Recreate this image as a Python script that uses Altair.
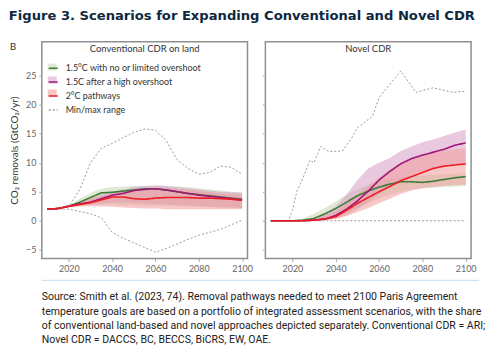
import altair as alt
import pandas as pd

# ---------------- data ----------------
years = [2010, 2015, 2020, 2025, 2030, 2035, 2040, 2045, 2050, 2055,
         2060, 2065, 2070, 2075, 2080, 2085, 2090, 2095, 2100]

SCEN = ["1.5°C with no or limited overshoot", "1.5C after a high overshoot", "2°C pathways"]
MINMAX = "Min/max range"

# Conventional CDR on land
conv_green = [2.0, 2.1, 2.5, 3.2, 4.0, 4.8, 4.9, 5.1, 5.3, 5.5, 5.5, 5.3, 5.0, 4.7, 4.5, 4.3, 4.1, 3.9, 3.7]
conv_purple = [2.0, 2.1, 2.5, 2.9, 3.2, 3.8, 4.4, 4.7, 5.2, 5.4, 5.5, 5.3, 5.0, 4.7, 4.4, 4.2, 4.0, 3.8, 3.6]
conv_red = [2.0, 2.1, 2.5, 2.8, 3.1, 3.6, 4.1, 4.1, 3.8, 3.7, 3.9, 4.0, 4.0, 4.0, 3.9, 3.9, 3.8, 3.7, 3.5]
conv_green_lo = [2.0, 2.1, 2.4, 2.6, 2.8, 2.8, 2.8, 2.7, 2.7, 2.6, 2.6, 2.6, 2.5, 2.5, 2.4, 2.4, 2.3, 2.3, 2.2]
conv_green_hi = [2.0, 2.1, 2.6, 3.8, 4.8, 5.5, 5.8, 5.9, 6.0, 6.0, 6.0, 6.0, 5.9, 5.8, 5.6, 5.4, 5.2, 5.0, 4.9]
conv_purple_lo = [2.0, 2.1, 2.4, 2.6, 2.8, 3.0, 3.1, 3.2, 3.1, 3.0, 2.9, 2.8, 2.7, 2.6, 2.5, 2.4, 2.3, 2.3, 2.2]
conv_purple_hi = [2.0, 2.1, 2.6, 3.2, 3.8, 4.5, 5.0, 5.4, 5.8, 6.0, 6.1, 6.0, 5.8, 5.6, 5.4, 5.2, 5.0, 4.9, 4.8]
conv_red_lo = [2.0, 2.1, 2.3, 2.4, 2.5, 2.5, 2.4, 2.3, 2.2, 2.1, 2.1, 2.0, 2.0, 2.0, 2.0, 2.0, 2.0, 2.0, 2.0]
conv_red_hi = [2.0, 2.1, 2.6, 3.2, 3.8, 4.3, 4.7, 5.0, 5.3, 5.5, 5.6, 5.6, 5.5, 5.3, 5.1, 4.9, 4.7, 4.6, 4.5]
conv_max = [2.0, 2.1, 2.5, 5.3, 10.0, 12.5, 13.3, 14.3, 15.2, 15.8, 15.6, 13.8, 10.5, 9.0, 8.0, 8.3, 9.4, 9.2, 8.0]
conv_min = [2.0, 2.0, 2.0, 1.6, 1.2, 0.5, -2.0, -3.0, -3.8, -4.6, -5.4, -4.8, -4.0, -3.2, -2.5, -2.0, -1.5, -0.7, 0.1]

# Novel CDR
nov_green = [0, 0, 0, 0.1, 0.4, 1.2, 2.1, 3.2, 4.3, 5.1, 5.8, 6.3, 6.7, 6.7, 6.6, 6.8, 7.1, 7.4, 7.6]
nov_purple = [0, 0, 0, 0, 0.1, 0.3, 0.9, 2.0, 3.4, 5.1, 7.0, 8.5, 9.8, 10.7, 11.3, 11.8, 12.3, 13.0, 13.4]
nov_red = [0, 0, 0, 0, 0.1, 0.3, 0.7, 1.8, 3.0, 4.0, 5.0, 5.9, 6.9, 7.6, 8.3, 9.0, 9.4, 9.6, 9.8]
nov_green_lo = [0, 0, 0, 0, 0.1, 0.4, 0.8, 1.4, 2.2, 3.0, 3.8, 4.5, 5.0, 5.4, 5.6, 5.7, 5.8, 5.9, 6.0]
nov_green_hi = [0, 0, 0, 0.4, 1.2, 2.2, 3.3, 4.5, 5.4, 6.2, 6.8, 7.2, 7.4, 7.6, 7.8, 7.9, 8.0, 8.1, 8.2]
nov_purple_lo = [0, 0, 0, 0, 0, 0.1, 0.4, 1.0, 2.0, 3.2, 4.5, 5.8, 6.8, 7.8, 8.5, 9.0, 9.4, 9.7, 9.9]
nov_purple_hi = [0, 0, 0, 0.1, 0.4, 1.2, 2.5, 4.5, 7.0, 9.0, 10.0, 10.8, 12.0, 12.8, 13.5, 14.0, 14.6, 15.2, 15.7]
nov_red_lo = [0, 0, 0, 0, 0, 0.1, 0.3, 0.8, 1.5, 2.2, 3.0, 3.8, 4.6, 5.2, 5.6, 5.8, 6.0, 6.1, 6.2]
nov_red_hi = [0, 0, 0, 0.1, 0.3, 0.8, 1.6, 3.0, 4.5, 6.0, 7.5, 8.8, 10.0, 10.8, 11.4, 11.8, 12.1, 12.3, 12.5]
nov_mm_years = [2010, 2018, 2020, 2022, 2025, 2028, 2030, 2033, 2037, 2043, 2047, 2050,
                2057, 2060, 2065, 2070, 2077, 2085, 2094, 2100]
nov_max = [0, 0, 1.8, 5.0, 7.5, 10.4, 10.0, 12.8, 11.9, 12.0, 14.0, 16.0,
           18.0, 21.2, 23.5, 25.8, 22.1, 22.9, 22.1, 22.3]
nov_min = [0, 0, 0, 0, 0, 0, 0, 0, 0, 0, 0, 0, 0, 0, 0, 0, 0, 0, 0, 0]

y_ticks = [-5, 0, 5, 10, 15, 20, 25]
x_ticks = [2020, 2040, 2060, 2080, 2100]

caption_lines = [
    "Source: Smith et al. (2023, 74). Removal pathways needed to meet 2100 Paris Agreement",
    "temperature goals are based on a portfolio of integrated assessment scenarios, with the share",
    "of conventional land-based and novel approaches depicted separately. Conventional CDR = ARI;",
    "Novel CDR = DACCS, BC, BECCS, BiCRS, EW, OAE.",
]

LINE_COLORS = ["#3f7b36", "#a0177a", "#ec1c24"]
FILL_COLORS = ["#c3d9b4", "#d79cc4", "#f39a9a"]

# ---------------- helpers ----------------
def lines_df(lines):
    rows = []
    for s, vals in zip(SCEN, lines):
        rows += [dict(year=y, value=v, series=s) for y, v in zip(years, vals)]
    return pd.DataFrame(rows)


def bands_df(los, his):
    rows = []
    for s, lo, hi in zip(SCEN, los, his):
        rows += [dict(year=y, lo=a, hi=b, series=s) for y, a, b in zip(years, lo, hi)]
    return pd.DataFrame(rows)


def mm_df(yrs, mx, mn):
    rows = [dict(year=y, value=v, series=MINMAX, bound="max") for y, v in zip(yrs, mx)]
    rows += [dict(year=y, value=v, series=MINMAX, bound="min") for y, v in zip(yrs, mn)]
    return pd.DataFrame(rows)


W, H = 207, 218
xscale = alt.Scale(domain=[2007.5, 2102.5], nice=False)
yscale = alt.Scale(domain=[-6.5, 30.8], nice=False)
fill_scale = alt.Scale(domain=SCEN, range=FILL_COLORS)
stroke_scale = alt.Scale(domain=SCEN + [MINMAX], range=LINE_COLORS + ["#9a9a9a"])
dash_scale = alt.Scale(domain=SCEN + [MINMAX], range=[[1, 0], [1, 0], [1, 0], [2, 2]])

fill_legend = alt.Legend(orient="none", legendX=6, legendY=21, title=None,
                         symbolType="M-1,-0.8H1V0.8H-1Z", symbolSize=81,
                         labelExpr="' '", rowPadding=3, padding=0, labelFontSize=9,
                         labelFont="Lato", symbolStrokeWidth=0, zindex=0, labelOffset=7)
stroke_legend = alt.Legend(orient="none", legendX=6, legendY=21, title=None,
                           symbolType="stroke", symbolSize=81, rowPadding=3, padding=0,
                           labelFontSize=9, labelFont="Lato", labelColor="#333333",
                           symbolStrokeWidth=1.5, zindex=1, labelOffset=7)


def panel(title, ldf, bdf, mdf, left):
    if left:
        yaxis = alt.Axis(values=y_ticks, title="CO₂ removals (GtCO₂/yr)", titlePadding=6,
                         labelOverlap=False, labelBound=False)
        fl, sl = fill_legend, stroke_legend
    else:
        yaxis = alt.Axis(values=y_ticks, labels=False, title=None)
        fl, sl = None, None
    x = alt.X("year:Q", scale=xscale,
              axis=alt.Axis(values=x_ticks, format="d", title=None, labelOverlap=False))
    bands = alt.Chart(bdf).mark_area(opacity=0.55).encode(
        x=x,
        y=alt.Y("lo:Q", scale=yscale, axis=yaxis),
        y2="hi:Q",
        fill=alt.Fill("series:N", scale=fill_scale, legend=fl),
    )
    mm = alt.Chart(mdf).mark_line(strokeWidth=1).encode(
        x=x, y=alt.Y("value:Q", scale=yscale, axis=yaxis),
        stroke=alt.Stroke("series:N", scale=stroke_scale, legend=sl),
        strokeDash=alt.StrokeDash("series:N", scale=dash_scale, legend=sl),
        detail="bound:N",
    )
    lines = alt.Chart(ldf).mark_line(strokeWidth=1.6).encode(
        x=x, y=alt.Y("value:Q", scale=yscale, axis=yaxis),
        stroke=alt.Stroke("series:N", scale=stroke_scale, legend=sl),
        strokeDash=alt.StrokeDash("series:N", scale=dash_scale, legend=sl),
    )
    head = alt.Chart(pd.DataFrame({"t": [title]})).mark_text(
        font="Lato", fontSize=9.5, color="#333333", baseline="middle"
    ).encode(text="t:N", x=alt.value(W / 2), y=alt.value(7))
    layers = [bands, mm, lines, head]
    if left:
        b = alt.Chart(pd.DataFrame({"t": ["B"]})).mark_text(
            font="Roboto", fontSize=10, color="#333333", baseline="middle"
        ).encode(text="t:N", x=alt.value(-29), y=alt.value(5))
        layers.append(b)
    return alt.layer(*layers).properties(width=W, height=H)


left = panel("Conventional CDR on land",
             lines_df([conv_green, conv_purple, conv_red]),
             bands_df([conv_green_lo, conv_purple_lo, conv_red_lo],
                      [conv_green_hi, conv_purple_hi, conv_red_hi]),
             mm_df(years, conv_max, conv_min), True)
right = panel("Novel CDR",
              lines_df([nov_green, nov_purple, nov_red]),
              bands_df([nov_green_lo, nov_purple_lo, nov_red_lo],
                       [nov_green_hi, nov_purple_hi, nov_red_hi]),
              mm_df(nov_mm_years, nov_max, nov_min), False)

top = alt.hconcat(left, right, spacing=18, bounds="flush").resolve_scale(
    fill="independent", stroke="independent", strokeDash="independent")

cap_df = pd.DataFrame({"i": list(range(len(caption_lines))), "line": caption_lines})
sep = alt.Chart(pd.DataFrame({"a": [0]})).mark_rule(color="#c9dcec", strokeWidth=1).encode(
    x=alt.value(0), x2=alt.value(440), y=alt.value(0))
cap = alt.Chart(cap_df).mark_text(
    font="Roboto", fontSize=10.6, color="#222222", align="left", baseline="middle"
).encode(
    x=alt.value(0),
    y=alt.Y("i:O", axis=None, scale=alt.Scale(type="point", range=[17, 60.5], padding=0)),
    text="line:N",
)
caption = alt.layer(sep, cap).properties(width=440, height=64,
                                         view=alt.ViewBackground(strokeOpacity=0))

chart = alt.vconcat(top, caption, spacing=5).properties(
    title=alt.Title("Figure 3.  Scenarios for Expanding Conventional and Novel CDR",
                    anchor="start", font="DejaVu Sans", fontSize=13.2, fontWeight="bold",
                    color="#0e2841", offset=18),
    padding={"left": 0, "top": 0, "right": 0, "bottom": 0},
).configure_view(stroke="#8f8f8f", strokeWidth=1.5).configure_axis(
    labelFont="Lato", labelFontSize=9, labelColor="#666666", tickColor="#aaaaaa",
    tickSize=3, domain=False, grid=False, titleFont="Lato", titleFontSize=10,
    titleColor="#333333", titleFontWeight="normal", labelPadding=3, labelOverlap=False
)

chart.save("out.html", embed_options={"renderer": "svg", "actions": False})
